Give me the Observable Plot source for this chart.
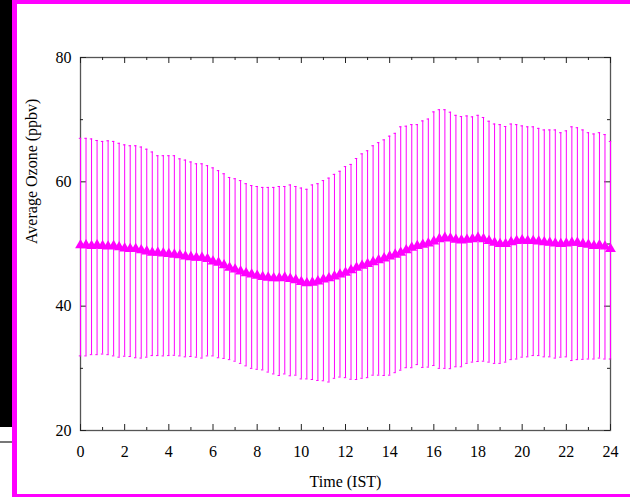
<!DOCTYPE html>
<html><head><meta charset="utf-8">
<script src="https://cdn.jsdelivr.net/npm/d3@7"></script>
<script src="https://cdn.jsdelivr.net/npm/@observablehq/plot@0.6"></script>
<style>
body{margin:0;background:#fff;}
#wrap{position:relative;width:630px;height:497px;overflow:hidden;background:#fff;}
.blk{position:absolute;left:0;top:0;width:12px;height:427px;background:#000;}
.gl{position:absolute;left:0;top:441px;width:13px;height:2px;background:#777;}
.bl{position:absolute;left:12px;top:0;width:5px;height:497px;background:#f0f;}
.bt{position:absolute;left:12px;top:0;width:618px;height:4px;background:#f0f;}
.bb{position:absolute;left:12px;top:494px;width:618px;height:3px;background:#f0f;}
#chart{position:absolute;left:0;top:0;}
</style></head>
<body>
<div id="wrap"><div class="blk"></div><div class="gl"></div><div id="chart"></div><div class="bl"></div><div class="bt"></div><div class="bb"></div></div>
<script>
const hours = [0,0.25,0.5,0.75,1,1.25,1.5,1.75,2,2.25,2.5,2.75,3,3.25,3.5,3.75,4,4.25,4.5,4.75,5,5.25,5.5,5.75,6,6.25,6.5,6.75,7,7.25,7.5,7.75,8,8.25,8.5,8.75,9,9.25,9.5,9.75,10,10.25,10.5,10.75,11,11.25,11.5,11.75,12,12.25,12.5,12.75,13,13.25,13.5,13.75,14,14.25,14.5,14.75,15,15.25,15.5,15.75,16,16.25,16.5,16.75,17,17.25,17.5,17.75,18,18.25,18.5,18.75,19,19.25,19.5,19.75,20,20.25,20.5,20.75,21,21.25,21.5,21.75,22,22.25,22.5,22.75,23,23.25,23.5,23.75,24];
const meanOzone = [49.8,49.8,49.7,49.8,49.7,49.6,49.7,49.5,49.3,49.2,49.2,49.0,48.8,48.6,48.6,48.5,48.4,48.3,48.2,48.0,47.9,47.8,47.8,47.6,47.2,47.0,46.6,46.2,45.9,45.6,45.3,45.1,44.9,44.7,44.6,44.5,44.5,44.6,44.4,44.2,43.9,43.7,43.8,44.0,44.3,44.5,44.8,45.1,45.4,45.8,46.2,46.5,46.8,47.1,47.4,47.7,48.0,48.3,48.6,49.0,49.4,49.7,49.9,50.1,50.4,50.8,51.0,50.9,50.7,50.6,50.7,50.8,51.0,50.8,50.5,50.2,50.0,50.0,50.3,50.5,50.6,50.5,50.5,50.4,50.3,50.2,50.1,50.0,50.1,50.2,50.2,50.0,49.9,49.7,49.8,49.6,49.2];
const upperOzone = [67.0,67.0,66.9,66.65,66.5,66.6,66.5,66.2,65.95,65.8,65.8,65.6,65.25,64.8,64.2,64.2,64.2,64.2,63.7,63.5,63.2,62.9,62.9,62.6,62.25,61.8,61.3,60.7,60.5,60.2,59.7,59.4,59.25,59.1,59.1,59.1,59.25,59.25,59.5,59.25,59.0,58.8,59.5,59.7,60.2,60.6,61.2,61.7,62.45,62.8,63.75,64.5,65.0,65.8,66.3,66.75,67.35,67.8,68.85,68.95,69.2,69.2,69.8,70.1,71.25,71.6,71.6,71.2,70.7,70.5,70.6,70.45,70.7,70.35,69.75,69.3,69.2,68.9,69.3,69.2,69.0,68.85,68.85,68.6,68.35,68.35,68.35,67.9,68.2,68.85,68.7,68.35,67.9,67.7,67.9,67.6,66.5];
const lowerOzone = [32.0,32.0,32.2,32.2,32.3,32.2,32.0,31.8,31.95,31.9,31.7,31.65,31.8,32.05,32.05,32.0,32.05,32.1,32.0,31.85,31.9,31.8,31.65,32.0,32.0,31.7,31.6,31.4,31.15,30.8,30.4,30.0,29.85,29.75,29.4,29.1,28.85,29.1,28.8,28.9,28.3,28.3,28.2,28.05,28.0,27.8,28.4,28.6,28.5,28.25,28.2,28.4,28.5,28.9,28.9,28.85,28.9,29.3,29.7,30.1,30.1,30.6,30.15,30.2,30.45,30.0,30.0,29.95,30.25,30.25,30.8,31.0,31.1,31.15,31.0,30.8,30.8,31.0,31.4,31.5,31.8,31.85,32.05,32.05,31.85,31.85,31.65,31.8,31.85,31.25,31.4,31.45,31.5,31.5,31.65,31.5,31.5];
const xMajorTicks = [0,2,4,6,8,10,12,14,16,18,20,22,24];
const xMinorTicks = [1,3,5,7,9,11,13,15,17,19,21,23];
const yMajorTicks = [20,40,60,80];
const yMinorTicks = [30,50,70];
const xLabel = "Time (IST)";
const yLabel = "Average Ozone (ppbv)";

const W = 630, H = 497, mL = 80, mR = 20, mT = 57, mB = 67;
const xDom = [0,24], yDom = [20,80];
const pxX = (xDom[1]-xDom[0])/(W-mL-mR);
const pxY = (yDom[1]-yDom[0])/(H-mT-mB);
const data = hours.map((h,i)=>({hour:h, mean:meanOzone[i], hi:upperOzone[i], lo:lowerOzone[i]}));
const col = "#ff00ff", tickCol = "#222";
const capW = 1.2*pxX;

const tickRulesX = (vals, len) => [
  Plot.ruleX(vals, {x:d=>d, y1:yDom[0], y2:yDom[0]+len*pxY, stroke:tickCol, strokeWidth:1}),
  Plot.ruleX(vals, {x:d=>d, y1:yDom[1], y2:yDom[1]-len*pxY, stroke:tickCol, strokeWidth:1})
];
const tickRulesY = (vals, len) => [
  Plot.ruleY(vals, {y:d=>d, x1:xDom[0], x2:xDom[0]+len*pxX, stroke:tickCol, strokeWidth:1}),
  Plot.ruleY(vals, {y:d=>d, x1:xDom[1], x2:xDom[1]-len*pxX, stroke:tickCol, strokeWidth:1})
];

const chart = Plot.plot({
  width: W, height: H,
  marginLeft: mL, marginRight: mR, marginTop: mT, marginBottom: mB,
  style: {fontFamily: "'Liberation Serif', 'Times New Roman', serif", fontSize: "16px", color: "#000", background: "transparent", overflow: "visible"},
  x: {domain: xDom},
  y: {domain: yDom},
  marks: [
    Plot.frame({stroke: "#555", strokeWidth: 1.3}),
    ...tickRulesX(xMajorTicks, 6),
    ...tickRulesX(xMinorTicks, 3),
    ...tickRulesY(yMajorTicks, 6),
    ...tickRulesY(yMinorTicks, 3),
    Plot.ruleX(data, {x:"hour", y1:"lo", y2:"hi", stroke: col, strokeWidth: 1}),
    Plot.ruleY(data, {y:"hi", x1:d=>d.hour-capW, x2:d=>d.hour+capW, stroke: col, strokeWidth: 1}),
    Plot.ruleY(data, {y:"lo", x1:d=>d.hour-capW, x2:d=>d.hour+capW, stroke: col, strokeWidth: 1}),
    Plot.dot(data, {x:"hour", y:"mean", symbol:"triangle", r:4, fill: col, stroke: "none"}),
    Plot.axisX(xMajorTicks, {tickSize: 0, tickPadding: 15, label: null, tickFormat: d=>String(d)}),
    Plot.axisY(yMajorTicks, {tickSize: 0, tickPadding: 9, label: null, tickFormat: d=>String(d)}),
    Plot.text([xLabel], {frameAnchor: "bottom", dy: 56, text: d=>d, fill: "#000", fontSize: 16}),
    Plot.text([yLabel], {frameAnchor: "left", dx: -49, rotate: -90, text: d=>d, fill: "#000", fontSize: 16})
  ]
});
document.getElementById("chart").appendChild(chart);
</script>
</body></html>
